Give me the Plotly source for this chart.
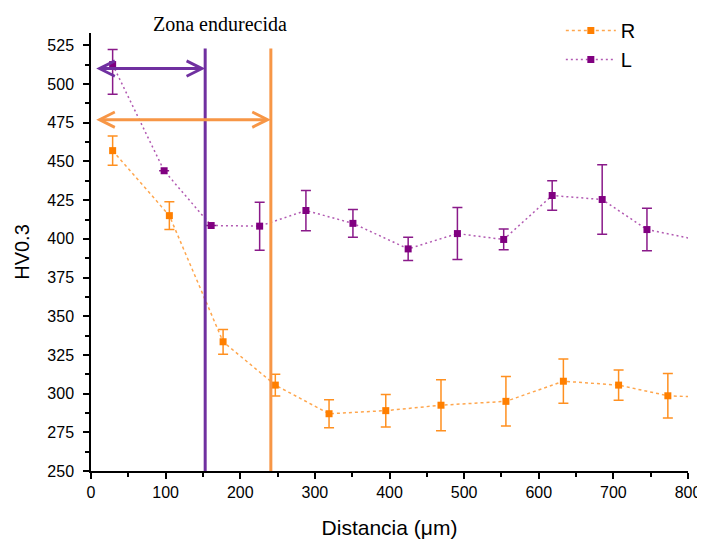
import plotly.graph_objects as go

# ---- data ----
r_x = [29, 105, 177, 247, 319, 395, 469, 556, 633, 707, 773, 830]
r_y = [457, 415, 333.5, 305.5, 287, 289, 292.5, 295, 308, 305.5, 298.6, 297.5]
r_err = [9.5, 9, 8, 7, 9, 10.5, 16.5, 16, 14.3, 9.8, 14.4, 10]

l_x = [29, 98, 161, 226, 288, 351, 425, 491, 553, 618, 685, 745, 808]
l_y = [512.6, 444, 408.6, 408.2, 418.3, 410, 393.5, 403.4, 399.6, 428, 425.4, 406, 399.8]
l_err_plus = [9.8, 0, 0, 15.5, 13, 9, 7.5, 16.8, 6.7, 9.5, 22.5, 13.7, 24.7]
l_err_minus = [19.2, 0, 0, 15.5, 13, 9, 7.5, 16.8, 6.7, 9.5, 22.5, 13.7, 24.7]

zone_limits = [153, 241]        # purple (L), orange (R)
zone_arrow_y = [510, 477]
zone_arrow_start = [5, 5]
zone_top = 523

x_range = [0, 800]
y_range = [250, 533]

ORANGE = "#FF7F00"
ORANGE_L = "#FFA64D"
PURPLE = "#800080"
PURPLE_L = "#B25AB2"
V_PURPLE = "#7030A0"
V_ORANGE = "#F79646"

fig = go.Figure()
fig.add_trace(go.Scatter(
    x=r_x, y=r_y, name="R", mode="lines+markers",
    line=dict(color=ORANGE_L, width=1.5, dash="3px,3px"),
    marker=dict(symbol="square", size=7, color=ORANGE),
    error_y=dict(type="data", array=r_err, color="#FF9020", thickness=1.5, width=5),
))
fig.add_trace(go.Scatter(
    x=l_x, y=l_y, name="L", mode="lines+markers",
    line=dict(color=PURPLE_L, width=1.5, dash="2px,3px"),
    marker=dict(symbol="square", size=7, color=PURPLE),
    error_y=dict(type="data", symmetric=False, array=l_err_plus, arrayminus=l_err_minus,
                 color="#8A1A8A", thickness=1.5, width=5),
))

vcolors = [V_PURPLE, V_ORANGE]
for xv, ya, xs, c in zip(zone_limits, zone_arrow_y, zone_arrow_start, vcolors):
    fig.add_shape(type="line", x0=xv, x1=xv, y0=y_range[0], y1=zone_top,
                  xref="x", yref="y", line=dict(color=c, width=3))
    fig.add_annotation(x=xv, y=ya, ax=xs, ay=ya, xref="x", yref="y",
                       axref="x", ayref="y", text="", showarrow=True,
                       arrowhead=5, startarrowhead=5, arrowside="end+start",
                       arrowsize=1, startarrowsize=1, arrowwidth=3, arrowcolor=c)

fig.add_annotation(x=0.216, y=1.02, xref="paper", yref="paper",
                   text="Zona endurecida", showarrow=False,
                   font=dict(family="Liberation Serif", size=20, color="black"),
                   xanchor="center", yanchor="middle")

axis_common = dict(
    showgrid=False, zeroline=False, showline=True, linecolor="black", linewidth=1.5,
    ticks="outside", ticklen=6, tickwidth=1.5, tickcolor="black",
    tickfont=dict(family="Liberation Sans", size=16, color="black"),
)
fig.update_xaxes(range=x_range, dtick=100, tick0=0,
                 minor=dict(dtick=50, ticks="outside", ticklen=4, tickwidth=1.5, tickcolor="black"),
                 title=dict(text="Distancia (μm)", font=dict(family="Liberation Sans", size=21, color="black"), standoff=20),
                 **axis_common)
fig.update_yaxes(range=y_range, dtick=25, tick0=250, ticklabelstandoff=6,
                 minor=dict(dtick=12.5, ticks="outside", ticklen=4, tickwidth=1.5, tickcolor="black"),
                 title=dict(text="HV0.3", font=dict(family="Liberation Sans", size=20, color="black"), standoff=12),
                 **axis_common)

# page body adds an 8px offset; figure size and margins compensate for it
fig.update_layout(
    width=697, height=537,
    margin=dict(l=83, r=17, t=25, b=74, autoexpand=False),
    plot_bgcolor="white", paper_bgcolor="white",
    legend=dict(x=0.787, y=1.05, xanchor="left", yanchor="top",
                font=dict(family="Liberation Sans", size=20, color="black"),
                bgcolor="rgba(0,0,0,0)", tracegroupgap=0, itemwidth=50),
)

fig.write_html("out.html")
